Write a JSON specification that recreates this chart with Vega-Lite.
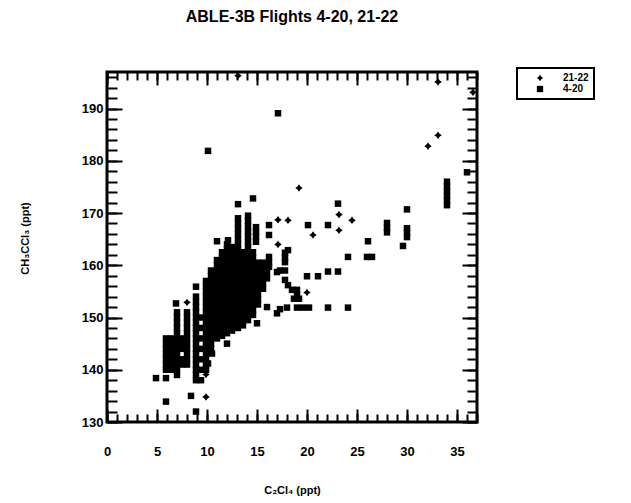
{
"$schema": "https://vega.github.io/schema/vega-lite/v6.json",
"width": 370, "height": 350,
"autosize": {"type": "none"},
"padding": {"left": 107, "top": 72, "right": 154, "bottom": 81},
"background": "white",
"config": {"font": "Liberation Sans", "view": {"stroke": "black", "strokeWidth": 3}, "legend": {"strokeWidth": 2}},
"title": {"text": "ABLE-3B Flights 4-20, 21-22", "fontSize": 16, "fontWeight": "bold", "font": "Liberation Sans", "anchor": "middle", "frame": "group", "baseline": "alphabetic", "offset": 29, "color": "black"},
"datasets": {
"pts": [
{"x":10.1,"y":181.9,"s":"4-20"},{"x":17.1,"y":189.1,"s":"4-20"},{"x":13.1,"y":171.7,"s":"4-20"},{"x":14.6,"y":172.8,"s":"4-20"},{"x":36.0,"y":177.8,"s":"4-20"},
{"x":34.0,"y":171.5,"s":"4-20"},{"x":34.0,"y":172.4,"s":"4-20"},{"x":34.0,"y":173.3,"s":"4-20"},{"x":34.0,"y":174.2,"s":"4-20"},{"x":34.0,"y":175.1,"s":"4-20"},{"x":34.0,"y":176.0,"s":"4-20"},
{"x":30.0,"y":170.7,"s":"4-20"},{"x":28.0,"y":166.3,"s":"4-20"},{"x":28.0,"y":167.2,"s":"4-20"},{"x":28.0,"y":168.1,"s":"4-20"},{"x":30.0,"y":165.4,"s":"4-20"},{"x":30.0,"y":166.3,"s":"4-20"},{"x":30.0,"y":167.1,"s":"4-20"},{"x":29.6,"y":163.7,"s":"4-20"},
{"x":26.1,"y":164.6,"s":"4-20"},{"x":26.0,"y":161.6,"s":"4-20"},{"x":26.5,"y":161.6,"s":"4-20"},{"x":24.1,"y":161.6,"s":"4-20"},
{"x":23.1,"y":171.8,"s":"4-20"},{"x":20.1,"y":167.7,"s":"4-20"},{"x":22.1,"y":167.7,"s":"4-20"},
{"x":20.0,"y":157.9,"s":"4-20"},{"x":21.1,"y":157.9,"s":"4-20"},{"x":22.1,"y":158.8,"s":"4-20"},{"x":23.1,"y":158.8,"s":"4-20"},
{"x":17.8,"y":160.6,"s":"4-20"},{"x":17.8,"y":161.5,"s":"4-20"},{"x":17.8,"y":162.4,"s":"4-20"},{"x":18.1,"y":162.9,"s":"4-20"},
{"x":16.2,"y":165.8,"s":"4-20"},{"x":16.2,"y":167.7,"s":"4-20"},{"x":16.2,"y":159.7,"s":"4-20"},{"x":16.2,"y":160.6,"s":"4-20"},{"x":16.2,"y":161.6,"s":"4-20"},
{"x":17.3,"y":159.0,"s":"4-20"},{"x":17.0,"y":158.7,"s":"4-20"},{"x":17.8,"y":159.0,"s":"4-20"},{"x":17.8,"y":157.2,"s":"4-20"},
{"x":18.1,"y":156.2,"s":"4-20"},{"x":18.5,"y":155.3,"s":"4-20"},{"x":19.0,"y":155.3,"s":"4-20"},{"x":19.0,"y":154.3,"s":"4-20"},{"x":18.7,"y":153.6,"s":"4-20"},{"x":19.2,"y":153.6,"s":"4-20"},
{"x":17.3,"y":151.6,"s":"4-20"},{"x":17.0,"y":150.8,"s":"4-20"},{"x":18.0,"y":151.9,"s":"4-20"},{"x":19.0,"y":151.9,"s":"4-20"},{"x":19.6,"y":151.9,"s":"4-20"},{"x":20.2,"y":151.9,"s":"4-20"},{"x":22.1,"y":151.9,"s":"4-20"},{"x":24.1,"y":151.9,"s":"4-20"},
{"x":16.0,"y":152.0,"s":"4-20"},{"x":15.0,"y":148.9,"s":"4-20"},{"x":12.0,"y":145.0,"s":"4-20"},{"x":10.5,"y":143.1,"s":"4-20"},{"x":10.1,"y":141.2,"s":"4-20"},
{"x":8.9,"y":132.0,"s":"4-20"},{"x":8.4,"y":135.0,"s":"4-20"},{"x":5.9,"y":133.9,"s":"4-20"},{"x":4.9,"y":138.4,"s":"4-20"},{"x":5.9,"y":138.4,"s":"4-20"},{"x":9.4,"y":138.0,"s":"4-20"},{"x":7.0,"y":139.0,"s":"4-20"},
{"x":6.9,"y":152.7,"s":"4-20"},{"x":8.9,"y":155.9,"s":"4-20"},{"x":11.0,"y":164.6,"s":"4-20"},{"x":12.1,"y":164.8,"s":"4-20"},
{"x":14.9,"y":164.5,"s":"4-20"},{"x":14.9,"y":165.5,"s":"4-20"},{"x":14.9,"y":166.4,"s":"4-20"},{"x":14.9,"y":167.3,"s":"4-20"},
{"x":5.9,"y":140,"s":"4-20"},{"x":5.9,"y":141,"s":"4-20"},{"x":5.9,"y":142,"s":"4-20"},{"x":5.9,"y":143,"s":"4-20"},{"x":5.9,"y":144,"s":"4-20"},{"x":5.9,"y":145,"s":"4-20"},{"x":5.9,"y":146,"s":"4-20"},
{"x":6.5,"y":140,"s":"4-20"},{"x":6.5,"y":141,"s":"4-20"},{"x":6.5,"y":142,"s":"4-20"},{"x":6.5,"y":143,"s":"4-20"},{"x":6.5,"y":144,"s":"4-20"},{"x":6.5,"y":145,"s":"4-20"},{"x":6.5,"y":146,"s":"4-20"},
{"x":7.0,"y":140,"s":"4-20"},{"x":7.0,"y":141,"s":"4-20"},{"x":7.0,"y":142,"s":"4-20"},{"x":7.0,"y":143,"s":"4-20"},{"x":7.0,"y":144,"s":"4-20"},{"x":7.0,"y":145,"s":"4-20"},{"x":7.0,"y":146,"s":"4-20"},{"x":7.0,"y":147,"s":"4-20"},{"x":7.0,"y":148,"s":"4-20"},{"x":7.0,"y":149,"s":"4-20"},{"x":7.0,"y":150,"s":"4-20"},{"x":7.0,"y":151,"s":"4-20"},
{"x":7.5,"y":141,"s":"4-20"},{"x":7.5,"y":142,"s":"4-20"},{"x":7.5,"y":144,"s":"4-20"},{"x":7.5,"y":145,"s":"4-20"},{"x":7.5,"y":146,"s":"4-20"},
{"x":8.0,"y":141,"s":"4-20"},{"x":8.0,"y":142,"s":"4-20"},{"x":8.0,"y":143,"s":"4-20"},{"x":8.0,"y":144,"s":"4-20"},{"x":8.0,"y":145,"s":"4-20"},{"x":8.0,"y":146,"s":"4-20"},{"x":8.0,"y":147,"s":"4-20"},{"x":8.0,"y":148,"s":"4-20"},{"x":8.0,"y":149,"s":"4-20"},{"x":8.0,"y":150,"s":"4-20"},{"x":8.0,"y":151,"s":"4-20"},
{"x":8.9,"y":138,"s":"4-20"},{"x":8.9,"y":139,"s":"4-20"},{"x":8.9,"y":140,"s":"4-20"},{"x":8.9,"y":141,"s":"4-20"},{"x":8.9,"y":142,"s":"4-20"},{"x":8.9,"y":143,"s":"4-20"},{"x":8.9,"y":144,"s":"4-20"},{"x":8.9,"y":145,"s":"4-20"},{"x":8.9,"y":146,"s":"4-20"},{"x":8.9,"y":147,"s":"4-20"},{"x":8.9,"y":148,"s":"4-20"},{"x":8.9,"y":149,"s":"4-20"},{"x":8.9,"y":150,"s":"4-20"},{"x":8.9,"y":151,"s":"4-20"},{"x":8.9,"y":152,"s":"4-20"},{"x":8.9,"y":153,"s":"4-20"},{"x":8.9,"y":154,"s":"4-20"},
{"x":9.4,"y":140,"s":"4-20"},{"x":9.4,"y":142,"s":"4-20"},{"x":9.4,"y":144,"s":"4-20"},{"x":9.4,"y":146,"s":"4-20"},{"x":9.4,"y":148,"s":"4-20"},{"x":9.4,"y":150,"s":"4-20"},
{"x":9.9,"y":140,"s":"4-20"},{"x":9.9,"y":141,"s":"4-20"},{"x":9.9,"y":142,"s":"4-20"},{"x":9.9,"y":143,"s":"4-20"},{"x":9.9,"y":144,"s":"4-20"},{"x":9.9,"y":145,"s":"4-20"},{"x":9.9,"y":146,"s":"4-20"},{"x":9.9,"y":147,"s":"4-20"},{"x":9.9,"y":148,"s":"4-20"},{"x":9.9,"y":149,"s":"4-20"},{"x":9.9,"y":150,"s":"4-20"},{"x":9.9,"y":151,"s":"4-20"},{"x":9.9,"y":152,"s":"4-20"},{"x":9.9,"y":153,"s":"4-20"},{"x":9.9,"y":154,"s":"4-20"},{"x":9.9,"y":155,"s":"4-20"},{"x":9.9,"y":156,"s":"4-20"},{"x":9.9,"y":157,"s":"4-20"},
{"x":10.4,"y":144,"s":"4-20"},{"x":10.4,"y":145,"s":"4-20"},{"x":10.4,"y":146,"s":"4-20"},{"x":10.4,"y":147,"s":"4-20"},{"x":10.4,"y":148,"s":"4-20"},{"x":10.4,"y":149,"s":"4-20"},{"x":10.4,"y":150,"s":"4-20"},{"x":10.4,"y":151,"s":"4-20"},{"x":10.4,"y":152,"s":"4-20"},{"x":10.4,"y":153,"s":"4-20"},{"x":10.4,"y":154,"s":"4-20"},{"x":10.4,"y":155,"s":"4-20"},{"x":10.4,"y":156,"s":"4-20"},{"x":10.4,"y":157,"s":"4-20"},{"x":10.4,"y":158,"s":"4-20"},{"x":10.4,"y":159,"s":"4-20"},
{"x":11.0,"y":146,"s":"4-20"},{"x":11.0,"y":147,"s":"4-20"},{"x":11.0,"y":148,"s":"4-20"},{"x":11.0,"y":149,"s":"4-20"},{"x":11.0,"y":150,"s":"4-20"},{"x":11.0,"y":151,"s":"4-20"},{"x":11.0,"y":152,"s":"4-20"},{"x":11.0,"y":153,"s":"4-20"},{"x":11.0,"y":154,"s":"4-20"},{"x":11.0,"y":155,"s":"4-20"},{"x":11.0,"y":156,"s":"4-20"},{"x":11.0,"y":157,"s":"4-20"},{"x":11.0,"y":158,"s":"4-20"},{"x":11.0,"y":159,"s":"4-20"},{"x":11.0,"y":160,"s":"4-20"},{"x":11.0,"y":161,"s":"4-20"},
{"x":11.5,"y":146.5,"s":"4-20"},{"x":11.5,"y":147.5,"s":"4-20"},{"x":11.5,"y":148.5,"s":"4-20"},{"x":11.5,"y":149.5,"s":"4-20"},{"x":11.5,"y":150.5,"s":"4-20"},{"x":11.5,"y":151.5,"s":"4-20"},{"x":11.5,"y":152.5,"s":"4-20"},{"x":11.5,"y":153.5,"s":"4-20"},{"x":11.5,"y":154.5,"s":"4-20"},{"x":11.5,"y":155.5,"s":"4-20"},{"x":11.5,"y":156.5,"s":"4-20"},{"x":11.5,"y":157.5,"s":"4-20"},{"x":11.5,"y":158.5,"s":"4-20"},{"x":11.5,"y":159.5,"s":"4-20"},{"x":11.5,"y":160.5,"s":"4-20"},{"x":11.5,"y":161.5,"s":"4-20"},{"x":11.5,"y":162.5,"s":"4-20"},
{"x":12.0,"y":147,"s":"4-20"},{"x":12.0,"y":148,"s":"4-20"},{"x":12.0,"y":149,"s":"4-20"},{"x":12.0,"y":150,"s":"4-20"},{"x":12.0,"y":151,"s":"4-20"},{"x":12.0,"y":152,"s":"4-20"},{"x":12.0,"y":153,"s":"4-20"},{"x":12.0,"y":154,"s":"4-20"},{"x":12.0,"y":155,"s":"4-20"},{"x":12.0,"y":156,"s":"4-20"},{"x":12.0,"y":157,"s":"4-20"},{"x":12.0,"y":158,"s":"4-20"},{"x":12.0,"y":159,"s":"4-20"},{"x":12.0,"y":160,"s":"4-20"},{"x":12.0,"y":161,"s":"4-20"},{"x":12.0,"y":162,"s":"4-20"},{"x":12.0,"y":163,"s":"4-20"},{"x":12.0,"y":164,"s":"4-20"},
{"x":12.5,"y":147.5,"s":"4-20"},{"x":12.5,"y":148.5,"s":"4-20"},{"x":12.5,"y":149.5,"s":"4-20"},{"x":12.5,"y":150.5,"s":"4-20"},{"x":12.5,"y":151.5,"s":"4-20"},{"x":12.5,"y":152.5,"s":"4-20"},{"x":12.5,"y":153.5,"s":"4-20"},{"x":12.5,"y":154.5,"s":"4-20"},{"x":12.5,"y":155.5,"s":"4-20"},{"x":12.5,"y":156.5,"s":"4-20"},{"x":12.5,"y":157.5,"s":"4-20"},{"x":12.5,"y":158.5,"s":"4-20"},{"x":12.5,"y":159.5,"s":"4-20"},{"x":12.5,"y":160.5,"s":"4-20"},{"x":12.5,"y":161.5,"s":"4-20"},{"x":12.5,"y":162.5,"s":"4-20"},{"x":12.5,"y":163.5,"s":"4-20"},
{"x":13.1,"y":148,"s":"4-20"},{"x":13.1,"y":149,"s":"4-20"},{"x":13.1,"y":150,"s":"4-20"},{"x":13.1,"y":151,"s":"4-20"},{"x":13.1,"y":152,"s":"4-20"},{"x":13.1,"y":153,"s":"4-20"},{"x":13.1,"y":154,"s":"4-20"},{"x":13.1,"y":155,"s":"4-20"},{"x":13.1,"y":156,"s":"4-20"},{"x":13.1,"y":157,"s":"4-20"},{"x":13.1,"y":158,"s":"4-20"},{"x":13.1,"y":159,"s":"4-20"},{"x":13.1,"y":160,"s":"4-20"},{"x":13.1,"y":161,"s":"4-20"},{"x":13.1,"y":162,"s":"4-20"},{"x":13.1,"y":163,"s":"4-20"},{"x":13.1,"y":164,"s":"4-20"},{"x":13.1,"y":165,"s":"4-20"},{"x":13.1,"y":166,"s":"4-20"},{"x":13.1,"y":167,"s":"4-20"},{"x":13.1,"y":168,"s":"4-20"},{"x":13.1,"y":169,"s":"4-20"},
{"x":13.6,"y":148.5,"s":"4-20"},{"x":13.6,"y":149.5,"s":"4-20"},{"x":13.6,"y":150.5,"s":"4-20"},{"x":13.6,"y":151.5,"s":"4-20"},{"x":13.6,"y":152.5,"s":"4-20"},{"x":13.6,"y":153.5,"s":"4-20"},{"x":13.6,"y":154.5,"s":"4-20"},{"x":13.6,"y":155.5,"s":"4-20"},{"x":13.6,"y":156.5,"s":"4-20"},{"x":13.6,"y":157.5,"s":"4-20"},{"x":13.6,"y":158.5,"s":"4-20"},{"x":13.6,"y":159.5,"s":"4-20"},{"x":13.6,"y":160.5,"s":"4-20"},{"x":13.6,"y":161.5,"s":"4-20"},{"x":13.6,"y":162.5,"s":"4-20"},
{"x":14.1,"y":149.5,"s":"4-20"},{"x":14.1,"y":150.5,"s":"4-20"},{"x":14.1,"y":151.5,"s":"4-20"},{"x":14.1,"y":152.5,"s":"4-20"},{"x":14.1,"y":153.5,"s":"4-20"},{"x":14.1,"y":154.5,"s":"4-20"},{"x":14.1,"y":155.5,"s":"4-20"},{"x":14.1,"y":156.5,"s":"4-20"},{"x":14.1,"y":157.5,"s":"4-20"},{"x":14.1,"y":158.5,"s":"4-20"},{"x":14.1,"y":159.5,"s":"4-20"},{"x":14.1,"y":160.5,"s":"4-20"},{"x":14.1,"y":161.5,"s":"4-20"},{"x":14.1,"y":162.5,"s":"4-20"},{"x":14.1,"y":163.5,"s":"4-20"},{"x":14.1,"y":164.5,"s":"4-20"},{"x":14.1,"y":165.5,"s":"4-20"},{"x":14.1,"y":166.5,"s":"4-20"},{"x":14.1,"y":167.5,"s":"4-20"},{"x":14.1,"y":168.5,"s":"4-20"},{"x":14.1,"y":169.5,"s":"4-20"},
{"x":14.6,"y":150.5,"s":"4-20"},{"x":14.6,"y":151.5,"s":"4-20"},{"x":14.6,"y":152.5,"s":"4-20"},{"x":14.6,"y":153.5,"s":"4-20"},{"x":14.6,"y":154.5,"s":"4-20"},{"x":14.6,"y":155.5,"s":"4-20"},{"x":14.6,"y":156.5,"s":"4-20"},{"x":14.6,"y":157.5,"s":"4-20"},{"x":14.6,"y":158.5,"s":"4-20"},{"x":14.6,"y":159.5,"s":"4-20"},{"x":14.6,"y":160.5,"s":"4-20"},{"x":14.6,"y":161.5,"s":"4-20"},{"x":14.6,"y":162.5,"s":"4-20"},
{"x":15.1,"y":152.5,"s":"4-20"},{"x":15.1,"y":153.5,"s":"4-20"},{"x":15.1,"y":154.5,"s":"4-20"},{"x":15.1,"y":155.5,"s":"4-20"},{"x":15.1,"y":156.5,"s":"4-20"},{"x":15.1,"y":157.5,"s":"4-20"},{"x":15.1,"y":158.5,"s":"4-20"},{"x":15.1,"y":159.5,"s":"4-20"},{"x":15.1,"y":160.5,"s":"4-20"},
{"x":15.6,"y":155.5,"s":"4-20"},{"x":15.6,"y":156.5,"s":"4-20"},{"x":15.6,"y":157.5,"s":"4-20"},{"x":15.6,"y":158.5,"s":"4-20"},{"x":15.6,"y":159.5,"s":"4-20"},{"x":15.6,"y":160.5,"s":"4-20"},
{"x":16.0,"y":157.5,"s":"4-20"},{"x":16.0,"y":158.5,"s":"4-20"},
{"x":13.1,"y":196.3,"s":"21-22"},{"x":33.1,"y":195.1,"s":"21-22"},{"x":36.6,"y":193.1,"s":"21-22"},{"x":33.1,"y":184.9,"s":"21-22"},{"x":32.1,"y":182.8,"s":"21-22"},{"x":19.2,"y":174.8,"s":"21-22"},{"x":17.1,"y":168.7,"s":"21-22"},{"x":18.1,"y":168.6,"s":"21-22"},{"x":23.2,"y":169.7,"s":"21-22"},{"x":24.5,"y":168.6,"s":"21-22"},{"x":23.2,"y":166.7,"s":"21-22"},{"x":20.6,"y":165.8,"s":"21-22"},{"x":17.1,"y":164.0,"s":"21-22"},{"x":20.0,"y":154.8,"s":"21-22"},{"x":8.0,"y":152.9,"s":"21-22"},{"x":9.9,"y":139.1,"s":"21-22"},{"x":9.9,"y":134.8,"s":"21-22"}
],
"anchor": [{"x": 0, "y": 130}]
},
"layer": [
{"data": {"name": "pts"},
 "transform": [{"filter": "datum.s == '4-20'"}],
 "mark": {"type": "point", "filled": true, "color": "black", "opacity": 1, "size": 42},
 "encoding": {
  "x": {"field": "x", "type": "quantitative", "scale": {"domain": [0, 37], "nice": false, "zero": false},
   "axis": {"orient": "bottom", "values": [0,5,10,15,20,25,30,35], "ticks": false, "domain": false, "grid": false, "labelFlush": false, "labelOverlap": false, "labelFontSize": 13, "labelFontWeight": "bold", "labelColor": "black", "labelPadding": 23, "title": "C₂Cl₄ (ppt)", "titleFontSize": 11, "titleFontWeight": "bold", "titleColor": "black", "titleBaseline": "middle", "titleY": 68}},
  "y": {"field": "y", "type": "quantitative", "scale": {"domain": [130, 197], "nice": false, "zero": false},
   "axis": {"orient": "left", "values": [130,140,150,160,170,180,190], "ticks": false, "domain": false, "grid": false, "labelFlush": false, "labelOverlap": false, "labelFontSize": 13, "labelFontWeight": "bold", "labelColor": "black", "labelPadding": 4, "title": "CH₃CCl₃ (ppt)", "titleFontSize": 11, "titleFontWeight": "bold", "titleColor": "black", "titleAngle": -90, "titleBaseline": "middle", "titleAlign": "center", "titleX": -82, "titleY": 166}},
  "shape": {"field": "s", "type": "nominal", "sort": ["21-22", "4-20"], "scale": {"domain": ["21-22", "4-20"], "range": ["M0,-1L0.42,-0.42L1,0L0.42,0.42L0,1L-0.42,0.42L-1,0L-0.42,-0.42Z", "square"]},
   "legend": {"orient": "none", "legendX": 410, "legendY": -4, "title": null, "strokeColor": "black", "fillColor": "white", "padding": 5, "rowPadding": 1, "labelFontSize": 10, "labelFontWeight": "bold", "labelColor": "black", "symbolOffset": 13, "labelOffset": 18, "symbolSize": 40, "symbolFillColor": "black", "symbolStrokeColor": "black", "symbolStrokeWidth": 0, "symbolOpacity": 1}}
 }},
{"data": {"name": "pts"},
 "transform": [{"filter": "datum.s == '21-22'"}],
 "mark": {"type": "point", "filled": true, "color": "black", "opacity": 1, "size": 56},
 "encoding": {
  "x": {"field": "x", "type": "quantitative", "scale": {"domain": [0, 37], "nice": false, "zero": false}, "axis": null},
  "y": {"field": "y", "type": "quantitative", "scale": {"domain": [130, 197], "nice": false, "zero": false}, "axis": null},
  "shape": {"field": "s", "type": "nominal", "sort": ["21-22", "4-20"]}
 }},
{"data": {"name": "anchor"},
 "mark": {"type": "point", "opacity": 0},
 "encoding": {
  "x": {"field": "x", "type": "quantitative", "scale": {"domain": [0, 37], "nice": false, "zero": false},
   "axis": {"orient": "bottom", "values": [0,5,10,15,20,25,30,35], "labels": false, "domain": false, "grid": false, "tickSize": -13, "tickWidth": 2, "tickColor": "black", "title": null}},
  "y": {"field": "y", "type": "quantitative", "scale": {"domain": [130, 197], "nice": false, "zero": false},
   "axis": {"orient": "left", "values": [130,140,150,160,170,180,190], "labels": false, "domain": false, "grid": false, "tickSize": -15, "tickWidth": 2, "tickColor": "black", "title": null}}
 }},
{"data": {"name": "anchor"},
 "mark": {"type": "point", "opacity": 0},
 "encoding": {
  "x": {"field": "x", "type": "quantitative", "scale": {"domain": [0, 37], "nice": false, "zero": false},
   "axis": {"orient": "bottom", "values": [0,1,2,3,4,5,6,7,8,9,10,11,12,13,14,15,16,17,18,19,20,21,22,23,24,25,26,27,28,29,30,31,32,33,34,35,36,37], "labels": false, "domain": false, "grid": false, "tickSize": -8, "tickWidth": 2, "tickColor": "black", "title": null}},
  "y": {"field": "y", "type": "quantitative", "scale": {"domain": [130, 197], "nice": false, "zero": false},
   "axis": {"orient": "left", "values": [130,132,134,136,138,140,142,144,146,148,150,152,154,156,158,160,162,164,166,168,170,172,174,176,178,180,182,184,186,188,190,192,194,196], "labels": false, "domain": false, "grid": false, "tickSize": -10, "tickWidth": 2, "tickColor": "black", "title": null}}
 }},
{"data": {"name": "anchor"},
 "mark": {"type": "point", "opacity": 0},
 "encoding": {
  "x": {"field": "x", "type": "quantitative", "scale": {"domain": [0, 37], "nice": false, "zero": false},
   "axis": {"orient": "top", "values": [0,5,10,15,20,25,30,35], "labels": false, "domain": false, "grid": false, "tickSize": -13, "tickWidth": 2, "tickColor": "black", "title": null}},
  "y": {"field": "y", "type": "quantitative", "scale": {"domain": [130, 197], "nice": false, "zero": false},
   "axis": {"orient": "right", "values": [130,140,150,160,170,180,190], "labels": false, "domain": false, "grid": false, "tickSize": -15, "tickWidth": 2, "tickColor": "black", "title": null}}
 }},
{"data": {"name": "anchor"},
 "mark": {"type": "point", "opacity": 0},
 "encoding": {
  "x": {"field": "x", "type": "quantitative", "scale": {"domain": [0, 37], "nice": false, "zero": false},
   "axis": {"orient": "top", "values": [0,1,2,3,4,5,6,7,8,9,10,11,12,13,14,15,16,17,18,19,20,21,22,23,24,25,26,27,28,29,30,31,32,33,34,35,36,37], "labels": false, "domain": false, "grid": false, "tickSize": -8, "tickWidth": 2, "tickColor": "black", "title": null}},
  "y": {"field": "y", "type": "quantitative", "scale": {"domain": [130, 197], "nice": false, "zero": false},
   "axis": {"orient": "right", "values": [130,132,134,136,138,140,142,144,146,148,150,152,154,156,158,160,162,164,166,168,170,172,174,176,178,180,182,184,186,188,190,192,194,196], "labels": false, "domain": false, "grid": false, "tickSize": -10, "tickWidth": 2, "tickColor": "black", "title": null}}
 }}
],
"resolve": {"axis": {"x": "independent", "y": "independent"}}
}
